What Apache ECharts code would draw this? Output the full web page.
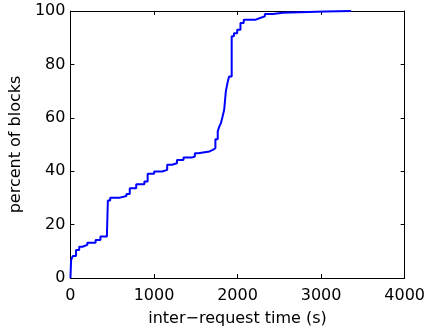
<!DOCTYPE html>
<html>
<head>
<meta charset="utf-8">
<script src="https://cdn.jsdelivr.net/npm/echarts@6/dist/echarts.min.js"></script>
<style>
html,body{margin:0;padding:0;background:#fff;}
#chart{width:428px;height:333px;}
</style>
</head>
<body>
<div id="chart"></div>
<script>
// inter-request time (s)
var times = [0, 8, 27, 67, 105, 144, 202, 301, 359, 436, 448, 476, 593, 670, 710, 787, 885, 924, 1002, 1099, 1158, 1216, 1275, 1353, 1450, 1489, 1529, 1664, 1704, 1735, 1763, 1781, 1801, 1821, 1840, 1860, 1879, 1899, 1930, 1957, 1996, 2035, 2074, 2211, 2269, 2327, 2425, 2542, 3049, 3360];
// percent of blocks
var percents = [0, 6.7, 8.2, 10.5, 11.7, 12.4, 13.2, 14.2, 15.5, 16.1, 29.0, 30.1, 30.7, 31.5, 33.6, 35.1, 36.1, 39.0, 39.9, 40.5, 42.4, 43.0, 44.2, 45.1, 45.5, 46.7, 47.4, 48.0, 48.6, 52.0, 54.9, 56.7, 58.0, 60.5, 63.0, 69.9, 73.0, 75.5, 90.5, 91.7, 93.0, 95.5, 96.7, 97.4, 98.0, 98.9, 99.3, 99.8, 100, 100];
var xTicks = [0, 1000, 2000, 3000, 4000];
var yTicks = [0, 20, 40, 60, 80, 100];

var points = times.map(function (t, i) { return [t, percents[i]]; });
var font = 'DejaVu Sans';
var axisLine = {show: true, onZero: false, lineStyle: {color: '#000', width: 1}};
var tick = {show: true, inside: true, length: 4, lineStyle: {color: '#000', width: 1}};
var plain = function (v) { return String(v); };

var chart = echarts.init(document.getElementById('chart'), null, {renderer: 'canvas'});
chart.setOption({
  animation: false,
  backgroundColor: '#fff',
  grid: {left: 66, right: 21, top: 11, bottom: 55, containLabel: false},
  xAxis: [{
    type: 'value', min: xTicks[0], max: xTicks[xTicks.length - 1], interval: 1000,
    position: 'bottom',
    name: 'inter\u2212request time (s)', nameLocation: 'middle', nameGap: 33,
    nameTextStyle: {fontFamily: font, fontSize: 16, color: '#000'},
    axisLine: axisLine, axisTick: tick,
    axisLabel: {fontFamily: font, fontSize: 16, color: '#000', margin: 10, formatter: plain},
    splitLine: {show: false}
  }, {
    type: 'value', min: xTicks[0], max: xTicks[xTicks.length - 1], interval: 1000,
    position: 'top',
    axisLine: axisLine, axisTick: tick, axisLabel: {show: false}, splitLine: {show: false}
  }],
  yAxis: [{
    type: 'value', min: yTicks[0], max: yTicks[yTicks.length - 1], interval: 20,
    position: 'left',
    name: 'percent of blocks', nameLocation: 'middle', nameGap: 31,
    nameTextStyle: {fontFamily: font, fontSize: 16, color: '#000'},
    axisLine: axisLine, axisTick: tick,
    axisLabel: {fontFamily: font, fontSize: 16, color: '#000', margin: 5, formatter: plain},
    splitLine: {show: false}
  }, {
    type: 'value', min: yTicks[0], max: yTicks[yTicks.length - 1], interval: 20,
    position: 'right',
    axisLine: axisLine, axisTick: tick, axisLabel: {show: false}, splitLine: {show: false}
  }],
  series: [{
    type: 'line', step: 'end', data: points, showSymbol: false,
    xAxisIndex: 0, yAxisIndex: 0,
    lineStyle: {color: '#0000ff', width: 2},
    z: 1
  }]
});
</script>
</body>
</html>
